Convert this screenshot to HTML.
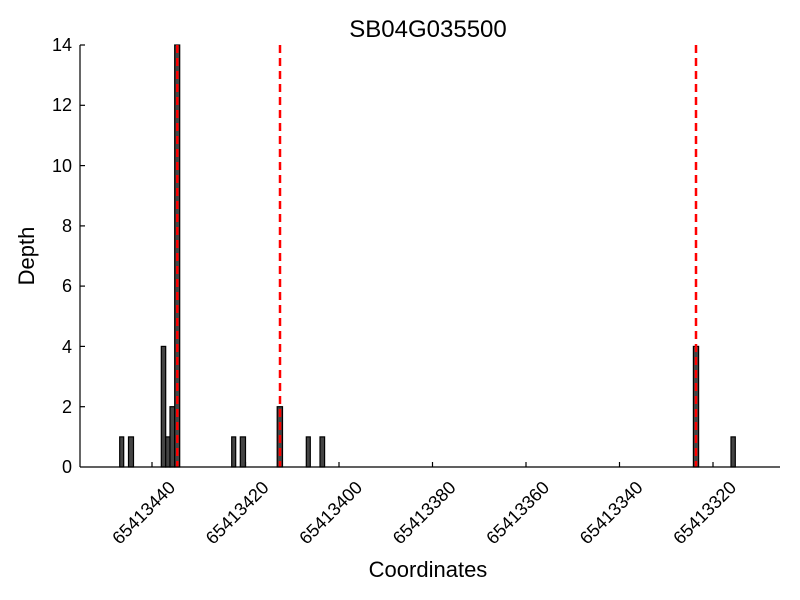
<!DOCTYPE html>
<html><head><meta charset="utf-8"><style>body{margin:0;background:#fff}svg{display:block}</style></head>
<body>
<svg width="800" height="600" xmlns="http://www.w3.org/2000/svg" font-family="Liberation Sans, DejaVu Sans, sans-serif">
<rect width="800" height="600" fill="#fff"/>
<text x="428" y="37" font-size="24" text-anchor="middle">SB04G035500</text>
<g fill="#444" stroke="#000" stroke-width="1.2">
<rect x="119.7" y="436.9" width="4" height="30.1"/>
<rect x="128.5" y="436.9" width="5" height="30.1"/>
<rect x="161.3" y="346.4" width="4.4" height="120.6"/>
<rect x="165.7" y="436.9" width="4.3" height="30.1"/>
<rect x="170" y="406.7" width="4.7" height="60.3"/>
<rect x="174.7" y="45" width="5" height="422"/>
<rect x="231.7" y="436.9" width="4" height="30.1"/>
<rect x="240.3" y="436.9" width="5.2" height="30.1"/>
<rect x="277.2" y="406.7" width="5.3" height="60.3"/>
<rect x="306.3" y="436.9" width="4" height="30.1"/>
<rect x="320" y="436.9" width="4.6" height="30.1"/>
<rect x="693.4" y="346.4" width="5.2" height="120.6"/>
<rect x="731" y="436.9" width="4.3" height="30.1"/>
</g>
<g stroke="#f00" stroke-width="2.5" stroke-dasharray="8,5">
<line x1="177.3" y1="45" x2="177.3" y2="467"/>
<line x1="280" y1="45" x2="280" y2="467"/>
<line x1="696" y1="45" x2="696" y2="467"/>
</g>
<g stroke="#000" stroke-width="1.2">
<line x1="80" y1="45" x2="80" y2="467"/>
<line x1="80" y1="467" x2="780" y2="467"/>
<line x1="80" y1="45" x2="85" y2="45"/>
<line x1="80" y1="105.3" x2="85" y2="105.3"/>
<line x1="80" y1="165.6" x2="85" y2="165.6"/>
<line x1="80" y1="225.9" x2="85" y2="225.9"/>
<line x1="80" y1="286.1" x2="85" y2="286.1"/>
<line x1="80" y1="346.4" x2="85" y2="346.4"/>
<line x1="80" y1="406.7" x2="85" y2="406.7"/>
<line x1="152" y1="467" x2="152" y2="462"/>
<line x1="245.5" y1="467" x2="245.5" y2="462"/>
<line x1="339" y1="467" x2="339" y2="462"/>
<line x1="432.5" y1="467" x2="432.5" y2="462"/>
<line x1="526" y1="467" x2="526" y2="462"/>
<line x1="619.5" y1="467" x2="619.5" y2="462"/>
<line x1="713" y1="467" x2="713" y2="462"/>
</g>
<g font-size="18" text-anchor="end">
<text x="72" y="51">14</text>
<text x="72" y="111">12</text>
<text x="72" y="172">10</text>
<text x="72" y="232">8</text>
<text x="72" y="292">6</text>
<text x="72" y="353">4</text>
<text x="72" y="413">2</text>
<text x="72" y="473">0</text>
</g>
<g font-size="18" text-anchor="middle">
<text transform="translate(148,517) rotate(-45)">65413440</text>
<text transform="translate(241.5,517) rotate(-45)">65413420</text>
<text transform="translate(335,517) rotate(-45)">65413400</text>
<text transform="translate(428.5,517) rotate(-45)">65413380</text>
<text transform="translate(522,517) rotate(-45)">65413360</text>
<text transform="translate(615.5,517) rotate(-45)">65413340</text>
<text transform="translate(709,517) rotate(-45)">65413320</text>
</g>
<text x="428" y="577" font-size="22" text-anchor="middle">Coordinates</text>
<text transform="translate(34,256) rotate(-90)" font-size="22" text-anchor="middle">Depth</text>
</svg>
</body></html>
